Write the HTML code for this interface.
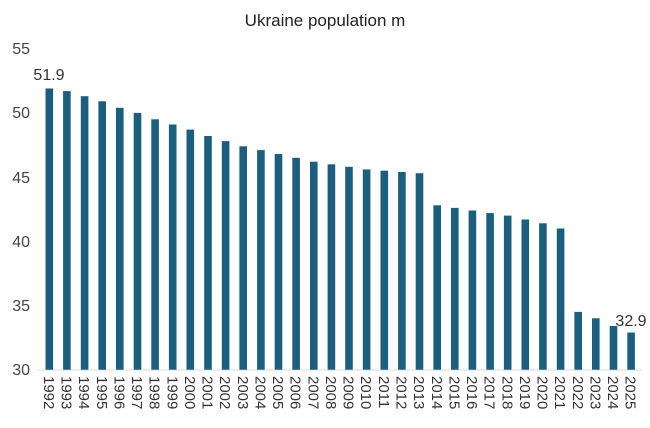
<!DOCTYPE html>
<html><head><style>body{margin:0;background:#fff}</style></head><body>
<svg width="650" height="423" xmlns="http://www.w3.org/2000/svg" font-family="Liberation Sans, sans-serif">
<rect width="650" height="423" fill="#fff"/>
<text x="325" y="26" text-anchor="middle" font-size="17" fill="#222">Ukraine population m</text>
<g font-size="16" fill="#444" text-anchor="end">
<text x="30" y="375">30</text><text x="30" y="311">35</text><text x="30" y="247">40</text>
<text x="30" y="183">45</text><text x="30" y="118">50</text><text x="30" y="54">55</text>
</g>
<line x1="38" y1="370" x2="642" y2="370" stroke="#d9d9d9" stroke-width="1"/>
<g fill="#1b5e7e">
<rect x="45.5" y="88.5" width="7.6" height="281.2"/>
<rect x="63.1" y="91.1" width="7.6" height="278.6"/>
<rect x="80.8" y="96.2" width="7.6" height="273.5"/>
<rect x="98.4" y="101.3" width="7.6" height="268.4"/>
<rect x="116.0" y="107.8" width="7.6" height="261.9"/>
<rect x="133.7" y="112.9" width="7.6" height="256.8"/>
<rect x="151.3" y="119.3" width="7.6" height="250.4"/>
<rect x="168.9" y="124.5" width="7.6" height="245.2"/>
<rect x="186.5" y="129.6" width="7.6" height="240.1"/>
<rect x="204.2" y="136.0" width="7.6" height="233.7"/>
<rect x="221.8" y="141.1" width="7.6" height="228.6"/>
<rect x="239.4" y="146.3" width="7.6" height="223.4"/>
<rect x="257.1" y="150.1" width="7.6" height="219.6"/>
<rect x="274.7" y="154.0" width="7.6" height="215.7"/>
<rect x="292.3" y="157.8" width="7.6" height="211.9"/>
<rect x="310.0" y="161.7" width="7.6" height="208.0"/>
<rect x="327.6" y="164.3" width="7.6" height="205.4"/>
<rect x="345.2" y="166.8" width="7.6" height="202.9"/>
<rect x="362.8" y="169.4" width="7.6" height="200.3"/>
<rect x="380.5" y="170.7" width="7.6" height="199.0"/>
<rect x="398.1" y="172.0" width="7.6" height="197.7"/>
<rect x="415.7" y="173.2" width="7.6" height="196.5"/>
<rect x="433.4" y="205.3" width="7.6" height="164.4"/>
<rect x="451.0" y="207.9" width="7.6" height="161.8"/>
<rect x="468.6" y="210.5" width="7.6" height="159.2"/>
<rect x="486.3" y="213.1" width="7.6" height="156.6"/>
<rect x="503.9" y="215.6" width="7.6" height="154.1"/>
<rect x="521.5" y="219.5" width="7.6" height="150.2"/>
<rect x="539.1" y="223.3" width="7.6" height="146.4"/>
<rect x="556.8" y="228.5" width="7.6" height="141.2"/>
<rect x="574.4" y="311.9" width="7.6" height="57.8"/>
<rect x="592.0" y="318.3" width="7.6" height="51.4"/>
<rect x="609.7" y="326.0" width="7.6" height="43.7"/>
<rect x="627.3" y="332.5" width="7.6" height="37.2"/>
</g>
<g font-size="15" fill="#333">
<text transform="translate(43.9,376) rotate(90)">1992</text>
<text transform="translate(61.5,376) rotate(90)">1993</text>
<text transform="translate(79.2,376) rotate(90)">1994</text>
<text transform="translate(96.8,376) rotate(90)">1995</text>
<text transform="translate(114.4,376) rotate(90)">1996</text>
<text transform="translate(132.1,376) rotate(90)">1997</text>
<text transform="translate(149.7,376) rotate(90)">1998</text>
<text transform="translate(167.3,376) rotate(90)">1999</text>
<text transform="translate(184.9,376) rotate(90)">2000</text>
<text transform="translate(202.6,376) rotate(90)">2001</text>
<text transform="translate(220.2,376) rotate(90)">2002</text>
<text transform="translate(237.8,376) rotate(90)">2003</text>
<text transform="translate(255.5,376) rotate(90)">2004</text>
<text transform="translate(273.1,376) rotate(90)">2005</text>
<text transform="translate(290.7,376) rotate(90)">2006</text>
<text transform="translate(308.4,376) rotate(90)">2007</text>
<text transform="translate(326.0,376) rotate(90)">2008</text>
<text transform="translate(343.6,376) rotate(90)">2009</text>
<text transform="translate(361.2,376) rotate(90)">2010</text>
<text transform="translate(378.9,376) rotate(90)">2011</text>
<text transform="translate(396.5,376) rotate(90)">2012</text>
<text transform="translate(414.1,376) rotate(90)">2013</text>
<text transform="translate(431.8,376) rotate(90)">2014</text>
<text transform="translate(449.4,376) rotate(90)">2015</text>
<text transform="translate(467.0,376) rotate(90)">2016</text>
<text transform="translate(484.7,376) rotate(90)">2017</text>
<text transform="translate(502.3,376) rotate(90)">2018</text>
<text transform="translate(519.9,376) rotate(90)">2019</text>
<text transform="translate(537.5,376) rotate(90)">2020</text>
<text transform="translate(555.2,376) rotate(90)">2021</text>
<text transform="translate(572.8,376) rotate(90)">2022</text>
<text transform="translate(590.4,376) rotate(90)">2023</text>
<text transform="translate(608.1,376) rotate(90)">2024</text>
<text transform="translate(625.7,376) rotate(90)">2025</text>
</g>
<text x="49" y="80" text-anchor="middle" font-size="16" fill="#333">51.9</text>
<text x="631" y="326" text-anchor="middle" font-size="16" fill="#333">32.9</text>
</svg>
</body></html>
